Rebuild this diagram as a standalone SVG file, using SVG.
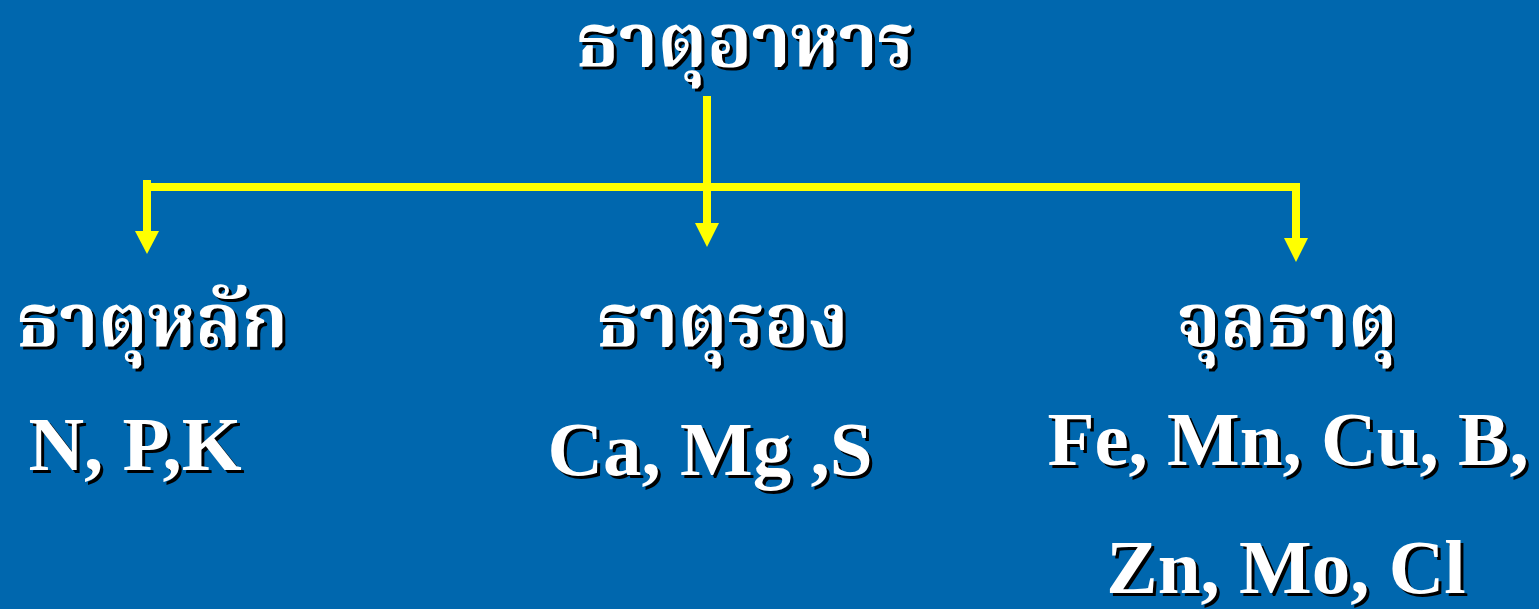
<svg xmlns="http://www.w3.org/2000/svg" width="1539" height="609" viewBox="0 0 1539 609">
<style>
.th{font-family:"Noto Serif Thai","Noto Sans Thai","Loma","Garuda","Norasi","DejaVu Sans","Liberation Serif",serif;font-weight:bold;font-size:74px;text-anchor:middle}
.en{font-family:"Liberation Serif","Times New Roman",serif;font-weight:bold;font-size:77px;text-anchor:middle}
.sh{fill:#000}
.fg{fill:#fff}
.ln{stroke:#ffff00;stroke-width:8;fill:none}
.ah{fill:#ffff00}
</style>
<rect width="1539" height="609" fill="#0067AE"/>
<g id="connectors">
<path class="ln" d="M707 96V226"/>
<path class="ln" d="M147 187H1296"/>
<path class="ln" d="M147 180V234"/>
<path class="ln" d="M1296 183V241"/>
<polygon class="ah" points="135,231 159,231 147,254"/>
<polygon class="ah" points="695,223 719,223 707,247"/>
<polygon class="ah" points="1284,238 1308,238 1296,262"/>
</g>
<g id="title">
<text class="th sh" x="748" y="69">ธาตุอาหาร</text>
<text class="th fg" x="745" y="66">ธาตุอาหาร</text>
</g>
<g id="macro">
<text class="th sh" x="155" y="349">ธาตุหลัก</text>
<text class="th fg" x="152" y="346">ธาตุหลัก</text>
<text class="en sh" x="138" y="473">N, P,K</text>
<text class="en fg" x="135" y="470">N, P,K</text>
</g>
<g id="secondary">
<text class="th sh" x="725" y="349">ธาตุรอง</text>
<text class="th fg" x="722" y="346">ธาตุรอง</text>
<text class="en sh" x="713" y="478">Ca, Mg ,S</text>
<text class="en fg" x="710" y="475">Ca, Mg ,S</text>
</g>
<g id="micro">
<text class="th sh" x="1290" y="349">จุลธาตุ</text>
<text class="th fg" x="1287" y="346">จุลธาตุ</text>
<text class="en sh" x="1291" y="468">Fe, Mn, Cu, B,</text>
<text class="en fg" x="1288" y="465">Fe, Mn, Cu, B,</text>
<text class="en sh" x="1289" y="596">Zn, Mo, Cl</text>
<text class="en fg" x="1286" y="593">Zn, Mo, Cl</text>
</g>
</svg>
